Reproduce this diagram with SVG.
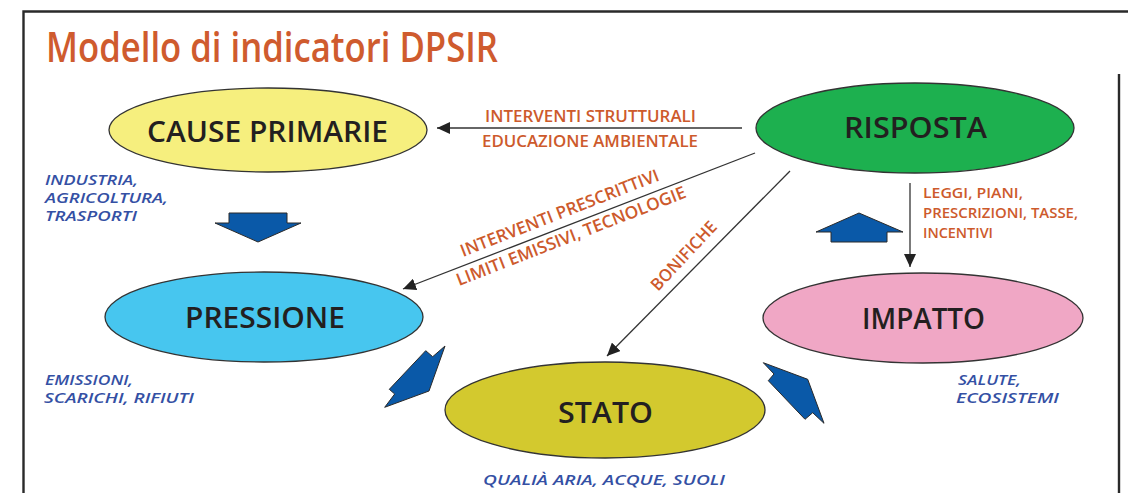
<svg xmlns="http://www.w3.org/2000/svg" width="1128" height="493" viewBox="0 0 1128 493">
  <defs>
    <marker id="head" markerUnits="userSpaceOnUse" markerWidth="13" markerHeight="12" refX="13" refY="6" orient="auto">
      <path d="M0,0 L13,6 L0,12 Z" fill="#222"/>
    </marker>
    <style>
      .frame { stroke: #2a2a2a; stroke-width: 2.4; fill: none; }
      .node ellipse { stroke: #333; stroke-width: 1.3; }
      .lbl { font-family: "Open Sans", "DejaVu Sans", sans-serif; font-weight: 600; font-size: 29px; fill: #231f20; text-anchor: middle; }
      .link { stroke: #333; stroke-width: 1.3; fill: none; marker-end: url(#head); }
      .act { font-family: "Open Sans", "DejaVu Sans", sans-serif; font-weight: 600; font-size: 17px; fill: #cd5a2c; }
      .act.sm { font-size: 14.5px; }
      .note { font-family: "Open Sans", "Liberation Sans", sans-serif; font-style: italic; font-weight: 600; font-size: 14.5px; fill: #3450a4; }
      .flow { fill: #0a59a8; stroke: #2a2a2a; stroke-width: 1; stroke-linejoin: miter; }
    </style>
  </defs>

  <rect width="1128" height="493" fill="#ffffff"/>

  <!-- page frame -->
  <path class="frame" d="M23.5,493 V11.5 H1128"/>
  <line class="frame" x1="1119" y1="74" x2="1119" y2="493" stroke-width="1.2"/>

  <text x="46" y="62" font-family="Open Sans, DejaVu Sans, sans-serif" font-weight="600" font-size="42" fill="#cf5b2e" textLength="452" lengthAdjust="spacingAndGlyphs">Modello di indicatori DPSIR</text>

  <!-- connectors -->
  <g id="connectors">
    <line class="link" x1="742" y1="128" x2="437" y2="128"/>
    <line class="link" x1="755" y1="153" x2="403" y2="289"/>
    <line class="link" x1="790" y1="171" x2="607" y2="356"/>
    <line class="link" x1="910" y1="183" x2="910" y2="267"/>

    <text class="act" x="485" y="122" textLength="211" lengthAdjust="spacingAndGlyphs">INTERVENTI STRUTTURALI</text>
    <text class="act" x="482" y="147" textLength="216" lengthAdjust="spacingAndGlyphs">EDUCAZIONE AMBIENTALE</text>

    <text class="act" x="463" y="257" transform="rotate(-21.3 463 257)" textLength="212" lengthAdjust="spacingAndGlyphs">INTERVENTI PRESCRITTIVI</text>
    <text class="act" x="459" y="286" transform="rotate(-21.3 459 286)" textLength="245" lengthAdjust="spacingAndGlyphs">LIMITI EMISSIVI, TECNOLOGIE</text>

    <text class="act" x="658" y="292" transform="rotate(-47 658 292)" font-weight="700" textLength="88" lengthAdjust="spacingAndGlyphs">BONIFICHE</text>

    <text class="act sm" x="923" y="198" textLength="100" lengthAdjust="spacingAndGlyphs">LEGGI, PIANI,</text>
    <text class="act sm" x="923" y="218" textLength="155" lengthAdjust="spacingAndGlyphs">PRESCRIZIONI, TASSE,</text>
    <text class="act sm" x="923" y="238" textLength="70" lengthAdjust="spacingAndGlyphs">INCENTIVI</text>
  </g>

  <!-- flow arrows between stages -->
  <g id="flows">
    <polygon class="flow" points="229,213 287,213 287,223 301,223 258,242 215,223 229,223"/>
    <polygon class="flow" points="859,213 903,232 887,232 887,242 831,242 831,232 816,232"/>
    <polygon class="flow" points="425.7,350.7 432.7,356.7 445,346 429,391 384.7,407.3 394.7,394 389.3,389.3"/>
    <polygon class="flow" points="763.3,362.7 807.7,379.3 824,423.3 812.7,412.7 805,419.3 768.3,380.7 774,374"/>
  </g>

  <g id="cause-primarie" class="node">
    <ellipse cx="268" cy="130" rx="159" ry="42" fill="#f6ef7e"/>
    <text class="lbl" x="267.5" y="142" textLength="241" lengthAdjust="spacingAndGlyphs">CAUSE PRIMARIE</text>
    <text class="note" x="45" y="185" textLength="93" lengthAdjust="spacingAndGlyphs">INDUSTRIA,</text>
    <text class="note" x="45" y="203" textLength="123" lengthAdjust="spacingAndGlyphs">AGRICOLTURA,</text>
    <text class="note" x="45" y="221" textLength="92" lengthAdjust="spacingAndGlyphs">TRASPORTI</text>
  </g>

  <g id="risposta" class="node">
    <ellipse cx="915" cy="128" rx="159" ry="45" fill="#1db04f"/>
    <text class="lbl" x="915.5" y="138" textLength="143" lengthAdjust="spacingAndGlyphs">RISPOSTA</text>
  </g>

  <g id="pressione" class="node">
    <ellipse cx="264" cy="317" rx="159" ry="45" fill="#47c6ef"/>
    <text class="lbl" x="265" y="328" textLength="160" lengthAdjust="spacingAndGlyphs">PRESSIONE</text>
    <text class="note" x="45" y="385" textLength="88" lengthAdjust="spacingAndGlyphs">EMISSIONI,</text>
    <text class="note" x="44" y="403" textLength="150" lengthAdjust="spacingAndGlyphs">SCARICHI, RIFIUTI</text>
  </g>

  <g id="impatto" class="node">
    <ellipse cx="923" cy="318" rx="160" ry="45" fill="#f0a7c5"/>
    <text class="lbl" x="923.5" y="329" textLength="123" lengthAdjust="spacingAndGlyphs">IMPATTO</text>
    <text class="note" x="958" y="385" textLength="63" lengthAdjust="spacingAndGlyphs">SALUTE,</text>
    <text class="note" x="956" y="403" textLength="103" lengthAdjust="spacingAndGlyphs">ECOSISTEMI</text>
  </g>

  <g id="stato" class="node">
    <ellipse cx="605" cy="410" rx="160" ry="48" fill="#d3c92e"/>
    <text class="lbl" x="605.5" y="423" textLength="95" lengthAdjust="spacingAndGlyphs">STATO</text>
    <text class="note" x="483" y="485" textLength="242" lengthAdjust="spacingAndGlyphs">QUALIÀ ARIA, ACQUE, SUOLI</text>
  </g>
</svg>
